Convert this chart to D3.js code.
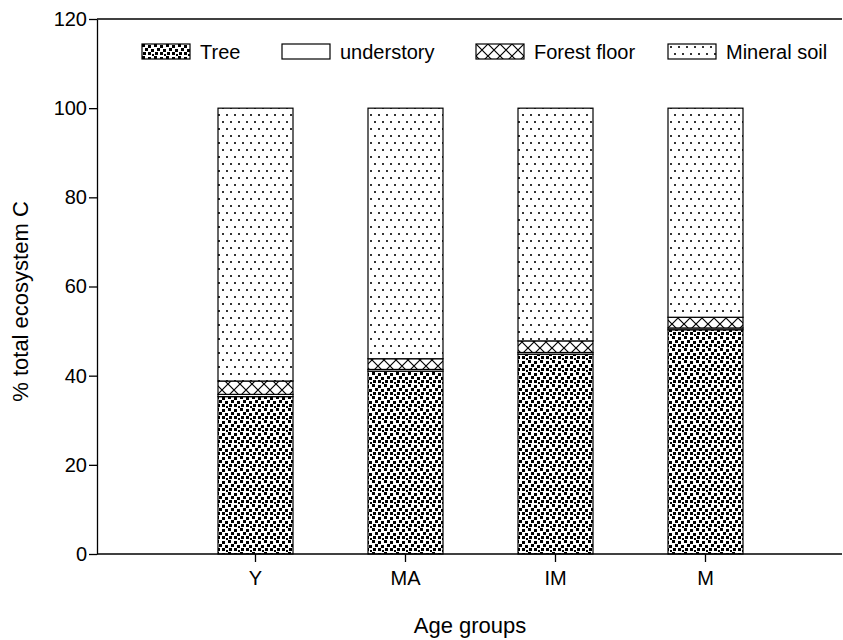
<!DOCTYPE html>
<html lang="en">
<head>
    <meta charset="UTF-8">
    <title>% total ecosystem C by age group</title>
    <style>
        body { margin: 0; background: #fff; }
        svg { display: block; font-family: "Liberation Sans", Arial, sans-serif; }
    </style>
    <script src="https://d3js.org/d3.v7.min.js"></script>
</head>
<body>
    <svg id="chart" width="843" height="640"></svg>
    <script>
        // Data
        const categories = ["Y", "MA", "IM", "M"];
        const tree = [35.3, 41.0, 44.8, 50.3];
        const understory = [0.5, 0.4, 0.4, 0.4];
        const forestFloor = [3.0, 2.4, 2.6, 2.4];
        const mineralSoil = [61.2, 56.2, 52.2, 46.9];
        const seriesNames = ["Tree", "understory", "Forest floor", "Mineral soil"];
        const yTicks = [0, 20, 40, 60, 80, 100, 120];

        const svg = d3.select("#chart");
        const plotLeft = 97, plotRight = 842, plotTop = 19, plotBottom = 554;

        const x = d3.scaleBand().domain(categories)
            .range([180.5, 780.5]).paddingInner(0.5).paddingOuter(0.25);
        const y = d3.scaleLinear().domain([0, 120]).range([plotBottom, plotTop]);

        // fill patterns
        const defs = svg.append("defs");
        const pTree = defs.append("pattern").attr("id", "p-tree")
            .attr("patternUnits", "userSpaceOnUse").attr("width", 12).attr("height", 12);
        pTree.append("rect").attr("width", 12).attr("height", 12).attr("fill", "#fff");
        [[0,0],[6,1],[3,4],[9,5],[1,8],[6,8],[10,10]].forEach(([a, b]) => {
            pTree.append("rect").attr("x", a).attr("y", b).attr("width", 3).attr("height", 3).attr("fill", "#000");
        });

        const pFloor = defs.append("pattern").attr("id", "p-floor")
            .attr("patternUnits", "userSpaceOnUse").attr("width", 12).attr("height", 12);
        pFloor.append("rect").attr("width", 12).attr("height", 12).attr("fill", "#fff");
        pFloor.append("path").attr("d", "M0,0L12,12M12,0L0,12")
            .attr("stroke", "#000").attr("stroke-width", 1.2).attr("fill", "none");

        const pSoil = defs.append("pattern").attr("id", "p-soil")
            .attr("patternUnits", "userSpaceOnUse").attr("width", 16).attr("height", 14);
        pSoil.append("rect").attr("width", 16).attr("height", 14).attr("fill", "#fff");
        [[3,3],[11,3],[7,10],[15,10]].forEach(([a, b]) => {
            pSoil.append("rect").attr("x", a - 1).attr("y", b - 1).attr("width", 2).attr("height", 2).attr("fill", "#333");
        });

        const fills = ["url(#p-tree)", "#fff", "url(#p-floor)", "url(#p-soil)"];

        // stacked bars
        const rows = categories.map((c, i) => ({
            cat: c, s0: tree[i], s1: understory[i], s2: forestFloor[i], s3: mineralSoil[i]
        }));
        const stack = d3.stack().keys(["s0", "s1", "s2", "s3"])(rows);

        stack.forEach((layer, li) => {
            svg.append("g").selectAll("rect").data(layer).enter().append("rect")
                .attr("x", d => x(d.data.cat))
                .attr("width", x.bandwidth())
                .attr("y", d => y(d[1]))
                .attr("height", d => y(d[0]) - y(d[1]))
                .attr("fill", fills[li])
                .attr("stroke", "#000")
                .attr("stroke-width", 1.2);
        });

        // frame
        svg.append("line").attr("x1", plotLeft).attr("x2", plotRight).attr("y1", plotTop).attr("y2", plotTop)
            .attr("stroke", "#000").attr("stroke-width", 1.3);

        // axes
        const yAxis = svg.append("g").attr("transform", `translate(${plotLeft},0)`)
            .call(d3.axisLeft(y).tickValues(yTicks).tickSize(8).tickSizeOuter(0));
        const xAxis = svg.append("g").attr("transform", `translate(0,${plotBottom})`)
            .call(d3.axisBottom(x).tickSize(8).tickSizeOuter(0));
        xAxis.select(".domain").attr("d", `M${plotLeft},0H${plotRight}`);
        [yAxis, xAxis].forEach(g => {
            g.selectAll("path, line").attr("stroke", "#000").attr("stroke-width", 1.3);
            g.selectAll("text").attr("font-size", 20).attr("fill", "#000")
                .attr("font-family", "Liberation Sans, Arial, sans-serif");
        });
        yAxis.selectAll("text").attr("x", -10);
        xAxis.selectAll("text").attr("y", 17);

        // axis titles
        svg.append("text").attr("x", 470).attr("y", 633).attr("text-anchor", "middle")
            .attr("font-size", 22).text("Age groups");
        svg.append("text").attr("transform", `translate(28,${(plotTop + plotBottom) / 2 + 15}) rotate(-90)`)
            .attr("text-anchor", "middle").attr("font-size", 22).text("% total ecosystem C");

        // legend
        const legendX = [142, 282, 476, 668];
        const legendFills = ["url(#p-tree)", "#fff", "url(#p-floor)", "url(#p-soil)"];
        seriesNames.forEach((name, i) => {
            const g = svg.append("g").attr("transform", `translate(${legendX[i]},44)`);
            g.append("rect").attr("width", 48).attr("height", 15)
                .attr("fill", legendFills[i]).attr("stroke", "#000").attr("stroke-width", 1.2);
            g.append("text").attr("x", 58).attr("y", 15).attr("font-size", 20).text(name);
        });
    </script>
</body>
</html>
